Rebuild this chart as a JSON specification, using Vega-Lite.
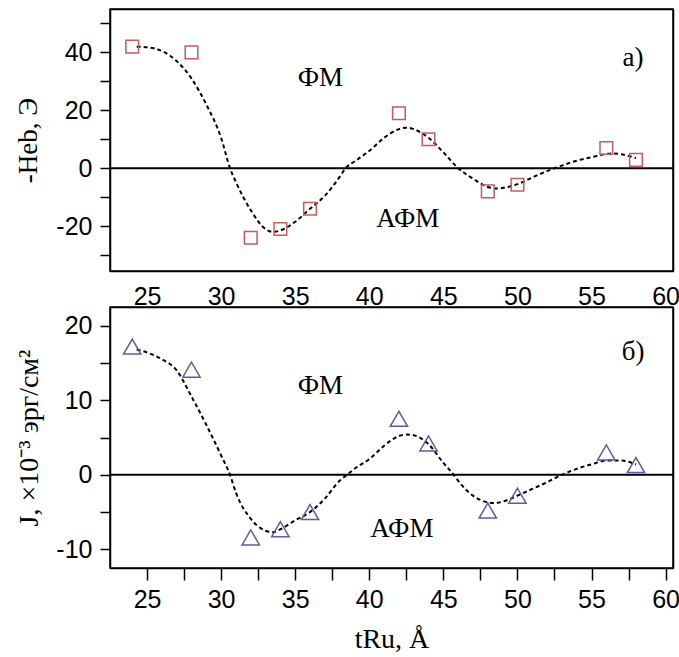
{
  "$schema": "https://vega.github.io/schema/vega-lite/v6.json",
  "padding": {"left": 14, "top": 7, "right": 8, "bottom": 2},
  "bounds": "flush",
  "spacing": 36,
  "background": "white",
  "config": {
    "view": {"stroke": "black", "strokeWidth": 1.5},
    "axis": {
      "domainColor": "black", "domainWidth": 1.5,
      "tickColor": "black", "tickWidth": 1.5,
      "grid": false,
      "labelFont": "Liberation Sans", "labelFontSize": 25, "labelColor": "black",
      "titleFont": "Liberation Serif", "titleFontSize": 27, "titleFontWeight": "normal", "titleColor": "black",
      "labelOverlap": false, "labelFlush": false
    },
    "text": {"font": "Liberation Serif", "fontSize": 27, "color": "black"}
  },
  "datasets": {
    "eb": [
      {"t": 24, "h": 42}, {"t": 28, "h": 40}, {"t": 32, "h": -24}, {"t": 34, "h": -21},
      {"t": 36, "h": -14}, {"t": 42, "h": 19}, {"t": 44, "h": 10}, {"t": 48, "h": -8},
      {"t": 50, "h": -5.7}, {"t": 56, "h": 7}, {"t": 58, "h": 2.9}
    ],
    "ebFit": [
      {"t": 24.3, "h": 42}, {"t": 25, "h": 41.8}, {"t": 26, "h": 40.5}, {"t": 27, "h": 37},
      {"t": 28, "h": 31}, {"t": 29, "h": 22}, {"t": 30, "h": 10.5}, {"t": 30.6, "h": 0},
      {"t": 31, "h": -4.8}, {"t": 32, "h": -14.5}, {"t": 33, "h": -21}, {"t": 33.5, "h": -22},
      {"t": 34, "h": -21.5}, {"t": 35, "h": -18.5}, {"t": 36, "h": -14}, {"t": 37, "h": -9.5},
      {"t": 38, "h": -3}, {"t": 38.4, "h": 0}, {"t": 39, "h": 2.3}, {"t": 40, "h": 6},
      {"t": 41, "h": 10.5}, {"t": 42, "h": 13.5}, {"t": 42.5, "h": 14}, {"t": 43, "h": 13.5},
      {"t": 44, "h": 10.5}, {"t": 45, "h": 5.5}, {"t": 46, "h": 0}, {"t": 47, "h": -3.6},
      {"t": 48, "h": -6.5}, {"t": 48.5, "h": -7}, {"t": 49, "h": -6.8}, {"t": 50, "h": -5.5},
      {"t": 51, "h": -3.2}, {"t": 52, "h": -1}, {"t": 52.5, "h": 0}, {"t": 53, "h": 0.9},
      {"t": 54, "h": 2.6}, {"t": 55, "h": 3.8}, {"t": 56, "h": 4.9}, {"t": 56.5, "h": 5.1},
      {"t": 57, "h": 4.8}, {"t": 58, "h": 3.5}
    ],
    "j": [
      {"t": 24, "j": 17.2}, {"t": 28, "j": 14.1}, {"t": 32, "j": -8.4}, {"t": 34, "j": -7.3},
      {"t": 36, "j": -5}, {"t": 42, "j": 7.5}, {"t": 44, "j": 4.2}, {"t": 48, "j": -4.8},
      {"t": 50, "j": -2.8}, {"t": 56, "j": 3}, {"t": 58, "j": 1.3}
    ],
    "jFit": [
      {"t": 24.3, "j": 16.8}, {"t": 25, "j": 16.4}, {"t": 26, "j": 15.5}, {"t": 27, "j": 14},
      {"t": 28, "j": 10.5}, {"t": 29, "j": 6.7}, {"t": 30, "j": 2.6}, {"t": 30.6, "j": 0},
      {"t": 31, "j": -2.4}, {"t": 32, "j": -5.9}, {"t": 33, "j": -7.5}, {"t": 33.5, "j": -7.7},
      {"t": 34, "j": -7.3}, {"t": 35, "j": -6.1}, {"t": 36, "j": -5}, {"t": 37, "j": -3.2},
      {"t": 38, "j": -0.8}, {"t": 38.5, "j": 0}, {"t": 39, "j": 0.8}, {"t": 40, "j": 2.1},
      {"t": 41, "j": 3.9}, {"t": 42, "j": 5.2}, {"t": 42.5, "j": 5.4}, {"t": 43, "j": 5.3},
      {"t": 44, "j": 4.1}, {"t": 45, "j": 1.6}, {"t": 45.7, "j": 0}, {"t": 46, "j": -0.8},
      {"t": 47, "j": -2.8}, {"t": 48, "j": -3.7}, {"t": 48.5, "j": -3.8}, {"t": 49, "j": -3.6},
      {"t": 50, "j": -2.8}, {"t": 51, "j": -1.9}, {"t": 52, "j": -1}, {"t": 53, "j": 0},
      {"t": 54, "j": 0.8}, {"t": 55, "j": 1.4}, {"t": 56, "j": 1.9}, {"t": 57, "j": 1.9},
      {"t": 58, "j": 1.4}
    ],
    "notesA": [
      {"x": 36.7, "y": 31, "label": "ФМ"},
      {"x": 42.6, "y": -17.4, "label": "АФМ"},
      {"x": 57.8, "y": 38.2, "label": "а)"}
    ],
    "notesB": [
      {"x": 36.7, "y": 11.9, "label": "ФМ"},
      {"x": 42.2, "y": -7.3, "label": "АФМ"},
      {"x": 57.8, "y": 16.4, "label": "б)"}
    ]
  },
  "vconcat": [
    {
      "width": 563,
      "height": 262,
      "resolve": {"axis": {"x": "independent", "y": "independent"}},
      "layer": [
        {
          "data": {"values": [{"zero": 0}]},
          "mark": {"type": "rule", "color": "black", "strokeWidth": 2},
          "encoding": {
            "y": {"field": "zero", "type": "quantitative", "scale": {"domain": [-35.5, 55], "nice": false, "zero": false}, "axis": null}
          }
        },
        {
          "data": {"name": "ebFit"},
          "mark": {"type": "line", "interpolate": "monotone", "color": "black", "strokeWidth": 2, "strokeDash": [4, 3]},
          "encoding": {
            "x": {"field": "t", "type": "quantitative", "scale": {"domain": [22.5, 60.5], "nice": false, "zero": false},
                  "axis": {"orient": "top", "values": [25, 27.5, 30, 32.5, 35, 37.5, 40, 42.5, 45, 47.5, 50, 52.5, 55, 57.5, 60],
                           "labels": false, "title": null, "tickSize": 0,
                           "encode": {"ticks": {"update": {"y2": {"signal": "datum.value % 5 === 0 ? 7 : 4"}}}}}},
            "y": {"field": "h", "type": "quantitative", "scale": {"domain": [-35.5, 55], "nice": false, "zero": false},
                  "axis": {"orient": "right", "values": [-30, -20, -10, 0, 10, 20, 30, 40, 50],
                           "labels": false, "title": null, "tickSize": 0,
                           "encode": {"ticks": {"update": {"x2": {"signal": "datum.value % 20 === 0 ? -10 : -5"}}}}}}
          }
        },
        {
          "data": {"name": "eb"},
          "mark": {"type": "point", "shape": "square", "filled": false, "size": 160, "color": "#c85a5e", "strokeWidth": 1.5, "opacity": 1},
          "encoding": {
            "x": {"field": "t", "type": "quantitative", "scale": {"domain": [22.5, 60.5], "nice": false, "zero": false},
                  "axis": {"orient": "bottom", "values": [25, 27.5, 30, 32.5, 35, 37.5, 40, 42.5, 45, 47.5, 50, 52.5, 55, 57.5, 60],
                           "labelExpr": "datum.value % 5 === 0 ? datum.label : ''", "title": null,
                           "tickSize": 0, "labelPadding": 13,
                           "encode": {"ticks": {"update": {"y2": {"signal": "datum.value % 5 === 0 ? -9 : -5"}}}}}},
            "y": {"field": "h", "type": "quantitative", "scale": {"domain": [-35.5, 55], "nice": false, "zero": false},
                  "axis": {"orient": "left", "values": [-30, -20, -10, 0, 10, 20, 30, 40, 50],
                           "labelExpr": "datum.value % 20 === 0 ? replace(datum.label, '−', '-') : ''", "title": "-Heb, Э",
                           "tickSize": 10, "labelPadding": 8, "titlePadding": 13,
                           "encode": {"ticks": {"update": {"x2": {"signal": "datum.value % 20 === 0 ? -10 : -6"}}}}}}
          }
        },
        {
          "data": {"name": "notesA"},
          "mark": {"type": "text", "align": "center", "baseline": "middle"},
          "encoding": {
            "x": {"field": "x", "type": "quantitative", "scale": {"domain": [22.5, 60.5], "nice": false, "zero": false}, "axis": null},
            "y": {"field": "y", "type": "quantitative", "scale": {"domain": [-35.5, 55], "nice": false, "zero": false}, "axis": null},
            "text": {"field": "label"}
          }
        }
      ]
    },
    {
      "width": 563,
      "height": 261,
      "resolve": {"axis": {"x": "independent", "y": "independent"}},
      "layer": [
        {
          "data": {"values": [{"zero": 0}]},
          "mark": {"type": "rule", "color": "black", "strokeWidth": 2},
          "encoding": {
            "y": {"field": "zero", "type": "quantitative", "scale": {"domain": [-12.5, 22.5], "nice": false, "zero": false}, "axis": null}
          }
        },
        {
          "data": {"name": "jFit"},
          "mark": {"type": "line", "interpolate": "monotone", "color": "black", "strokeWidth": 2, "strokeDash": [4, 3]},
          "encoding": {
            "x": {"field": "t", "type": "quantitative", "scale": {"domain": [22.5, 60.5], "nice": false, "zero": false},
                  "axis": {"orient": "top", "values": [25, 27.5, 30, 32.5, 35, 37.5, 40, 42.5, 45, 47.5, 50, 52.5, 55, 57.5, 60],
                           "labels": false, "title": null, "tickSize": 0,
                           "encode": {"ticks": {"update": {"y2": {"signal": "datum.value % 5 === 0 ? 9 : 5"}}}}}},
            "y": {"field": "j", "type": "quantitative", "scale": {"domain": [-12.5, 22.5], "nice": false, "zero": false},
                  "axis": {"orient": "right", "values": [-10, -5, 0, 5, 10, 15, 20],
                           "labels": false, "title": null, "tickSize": 0,
                           "encode": {"ticks": {"update": {"x2": {"signal": "datum.value % 10 === 0 ? -10 : -5"}}}}}}
          }
        },
        {
          "data": {"name": "j"},
          "mark": {"type": "point", "shape": "triangle-up", "filled": false, "size": 300, "color": "#5c5ca6", "strokeWidth": 1.5, "opacity": 1},
          "encoding": {
            "x": {"field": "t", "type": "quantitative", "scale": {"domain": [22.5, 60.5], "nice": false, "zero": false},
                  "axis": {"orient": "bottom", "values": [25, 27.5, 30, 32.5, 35, 37.5, 40, 42.5, 45, 47.5, 50, 52.5, 55, 57.5, 60],
                           "labelExpr": "datum.value % 5 === 0 ? datum.label : ''", "title": "tRu, Å",
                           "tickSize": 12, "labelPadding": 7, "titlePadding": 13, "titleFontSize": 28,
                           "encode": {"ticks": {"update": {"y2": {"signal": "datum.value % 5 === 0 ? 12 : 7"}}}}}},
            "y": {"field": "j", "type": "quantitative", "scale": {"domain": [-12.5, 22.5], "nice": false, "zero": false},
                  "axis": {"orient": "left", "values": [-10, -5, 0, 5, 10, 15, 20],
                           "labelExpr": "datum.value % 10 === 0 ? replace(datum.label, '−', '-') : ''", "title": "J, ×10⁻³ эрг/см²",
                           "tickSize": 10, "labelPadding": 8, "titlePadding": 12, "titleFontSize": 28,
                           "encode": {"ticks": {"update": {"x2": {"signal": "datum.value % 10 === 0 ? -10 : -6"}}}}}}
          }
        },
        {
          "data": {"name": "notesB"},
          "mark": {"type": "text", "align": "center", "baseline": "middle"},
          "encoding": {
            "x": {"field": "x", "type": "quantitative", "scale": {"domain": [22.5, 60.5], "nice": false, "zero": false}, "axis": null},
            "y": {"field": "y", "type": "quantitative", "scale": {"domain": [-12.5, 22.5], "nice": false, "zero": false}, "axis": null},
            "text": {"field": "label"}
          }
        }
      ]
    }
  ]
}
